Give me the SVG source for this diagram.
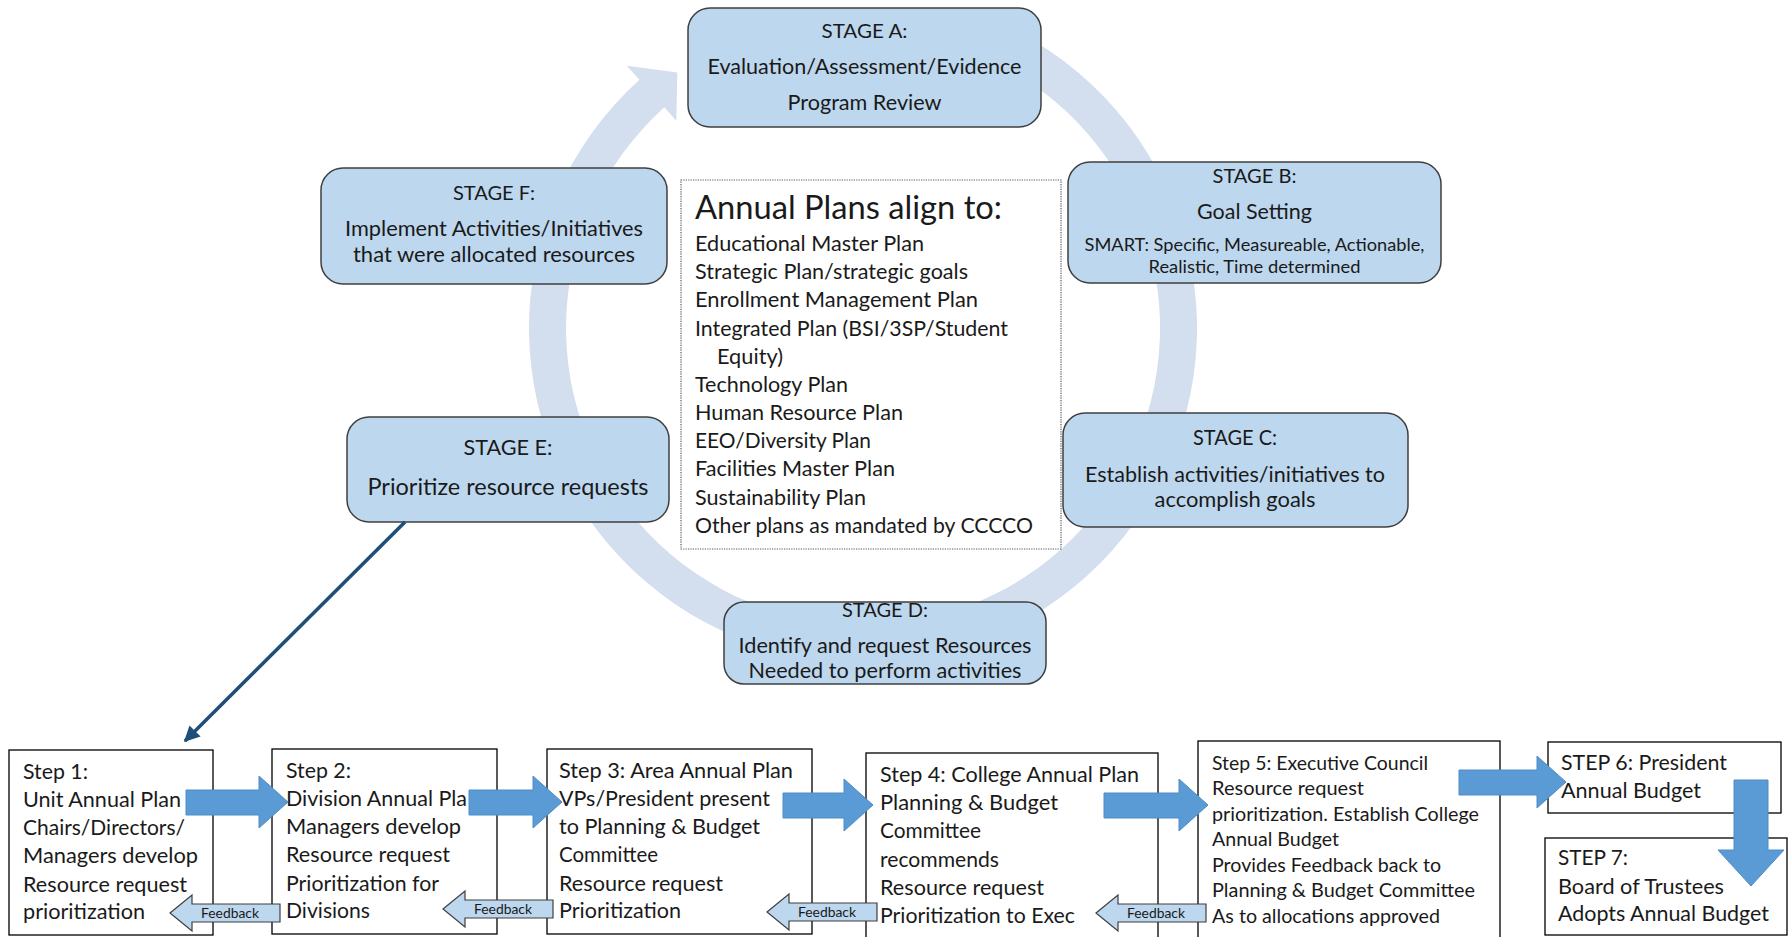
<svg xmlns="http://www.w3.org/2000/svg" width="1790" height="937" viewBox="0 0 1790 937">
<defs>
<style>
.st{fill:#BDD7EE;stroke:#3F3F3F;stroke-width:1.5}
.sp{fill:#FFFFFF;stroke:#000000;stroke-width:1.3}
.t{font-family:Lato,"Liberation Sans",sans-serif;fill:#1A1A1A}
.c{text-anchor:middle}
.ba{fill:#5B9BD5;stroke:#4F8CC6;stroke-width:1}
.fb{fill:#BDD7EE;stroke:#3F3F3F;stroke-width:1.2}
.fbt{font-family:Lato,"Liberation Sans",sans-serif;fill:#1A1A1A;font-size:12.5px;text-anchor:middle}
.ring{fill:#D3DEEF}
</style>
<marker id="ah" viewBox="0 0 10 10" refX="9" refY="5" markerWidth="4.5" markerHeight="4.5" orient="auto" markerUnits="strokeWidth">
<path d="M0,0 L10,5 L0,10 Z" fill="#1F4E79"/>
</marker>
<path id="fbarrow" d="M0,0 L22,-18 L22,-9 L110,-9 L110,9 L22,9 L22,18 Z"/>
</defs>
<rect width="1790" height="937" fill="#FFFFFF"/>

<g id="cycle-ring">
<path class="ring" d="M1004.2,25.3 A334,334 0 1 1 639.5,79.8 L626.8,65.7 L677.3,72.4 L676.3,120.7 L664.3,107.3 A297,297 0 1 0 988.5,58.8 Z"/>
</g>

<g id="stage-a">
<rect class="st" x="688" y="8" width="353" height="119" rx="22"/>
<text class="t c" x="864.5" y="38" font-size="20" textLength="86" lengthAdjust="spacingAndGlyphs">STAGE A:</text>
<text class="t c" x="864.5" y="74" font-size="21" textLength="314" lengthAdjust="spacingAndGlyphs">Evaluation/Assessment/Evidence</text>
<text class="t c" x="864.5" y="110" font-size="21" textLength="154" lengthAdjust="spacingAndGlyphs">Program Review</text>
</g>

<g id="stage-b">
<rect class="st" x="1068" y="162" width="373" height="121" rx="22"/>
<text class="t c" x="1254.5" y="183" font-size="20" textLength="84" lengthAdjust="spacingAndGlyphs">STAGE B:</text>
<text class="t c" x="1254.5" y="219" font-size="22" textLength="115" lengthAdjust="spacingAndGlyphs">Goal Setting</text>
<text class="t c" x="1254.5" y="251" font-size="16.5" textLength="340" lengthAdjust="spacingAndGlyphs">SMART: Specific, Measureable, Actionable,</text>
<text class="t c" x="1254.5" y="273" font-size="16.5" textLength="212" lengthAdjust="spacingAndGlyphs">Realistic, Time determined</text>
</g>

<g id="stage-c">
<rect class="st" x="1063" y="413" width="345" height="114" rx="22"/>
<text class="t c" x="1235" y="445" font-size="20.5" textLength="84" lengthAdjust="spacingAndGlyphs">STAGE C:</text>
<text class="t c" x="1235" y="482" font-size="21.5" textLength="300" lengthAdjust="spacingAndGlyphs">Establish activities/initiatives to</text>
<text class="t c" x="1235" y="507" font-size="21.5" textLength="161" lengthAdjust="spacingAndGlyphs">accomplish goals</text>
</g>

<g id="stage-d">
<rect class="st" x="724" y="602" width="322" height="82" rx="20"/>
<text class="t c" x="885" y="617" font-size="20" textLength="86" lengthAdjust="spacingAndGlyphs">STAGE D:</text>
<text class="t c" x="885" y="653" font-size="21" textLength="293" lengthAdjust="spacingAndGlyphs">Identify and request Resources</text>
<text class="t c" x="885" y="678" font-size="21" textLength="273" lengthAdjust="spacingAndGlyphs">Needed to perform activities</text>
</g>

<g id="stage-e">
<rect class="st" x="347" y="417" width="322" height="105" rx="22"/>
<text class="t c" x="508" y="455" font-size="22" textLength="89" lengthAdjust="spacingAndGlyphs">STAGE E:</text>
<text class="t c" x="508" y="495" font-size="22.5" textLength="281" lengthAdjust="spacingAndGlyphs">Prioritize resource requests</text>
</g>

<g id="stage-f">
<rect class="st" x="321" y="168" width="346" height="116" rx="22"/>
<text class="t c" x="494" y="200" font-size="20" textLength="82" lengthAdjust="spacingAndGlyphs">STAGE F:</text>
<text class="t c" x="494" y="236" font-size="21" textLength="298" lengthAdjust="spacingAndGlyphs">Implement Activities/Initiatives</text>
<text class="t c" x="494" y="262" font-size="21" textLength="282" lengthAdjust="spacingAndGlyphs">that were allocated resources</text>
</g>

<g id="annual-plans">
<rect x="681" y="180" width="380" height="369" fill="#FFFFFF" stroke="#555555" stroke-width="1.2" stroke-dasharray="1.2 1.2"/>
<text class="t" x="695" y="219" font-size="32" textLength="307" lengthAdjust="spacingAndGlyphs">Annual Plans align to:</text>
<text class="t" x="695" y="251" font-size="21" textLength="229" lengthAdjust="spacingAndGlyphs">Educational Master Plan</text>
<text class="t" x="695" y="279" font-size="21" textLength="273" lengthAdjust="spacingAndGlyphs">Strategic Plan/strategic goals</text>
<text class="t" x="695" y="307" font-size="21" textLength="283" lengthAdjust="spacingAndGlyphs">Enrollment Management Plan</text>
<text class="t" x="695" y="336" font-size="21" textLength="313" lengthAdjust="spacingAndGlyphs">Integrated Plan (BSI/3SP/Student</text>
<text class="t" x="717" y="364" font-size="21" textLength="66" lengthAdjust="spacingAndGlyphs">Equity)</text>
<text class="t" x="695" y="392" font-size="21" textLength="153" lengthAdjust="spacingAndGlyphs">Technology Plan</text>
<text class="t" x="695" y="420" font-size="21" textLength="208" lengthAdjust="spacingAndGlyphs">Human Resource Plan</text>
<text class="t" x="695" y="448" font-size="21" textLength="176" lengthAdjust="spacingAndGlyphs">EEO/Diversity Plan</text>
<text class="t" x="695" y="476" font-size="21" textLength="200" lengthAdjust="spacingAndGlyphs">Facilities Master Plan</text>
<text class="t" x="695" y="505" font-size="21" textLength="171" lengthAdjust="spacingAndGlyphs">Sustainability Plan</text>
<text class="t" x="695" y="533" font-size="21" textLength="338" lengthAdjust="spacingAndGlyphs">Other plans as mandated by CCCCO</text>
</g>

<g id="step-1">
<rect class="sp" x="9" y="750" width="204" height="185"/>
<text class="t" x="23" y="779" font-size="21" textLength="65" lengthAdjust="spacingAndGlyphs">Step 1:</text>
<text class="t" x="23" y="807" font-size="21" textLength="158" lengthAdjust="spacingAndGlyphs">Unit Annual Plan</text>
<text class="t" x="23" y="835" font-size="21" textLength="162" lengthAdjust="spacingAndGlyphs">Chairs/Directors/</text>
<text class="t" x="23" y="863" font-size="21" textLength="175" lengthAdjust="spacingAndGlyphs">Managers develop</text>
<text class="t" x="23" y="892" font-size="21" textLength="164" lengthAdjust="spacingAndGlyphs">Resource request</text>
<text class="t" x="23" y="919" font-size="21" textLength="122" lengthAdjust="spacingAndGlyphs">prioritization</text>
</g>

<g id="step-2">
<rect class="sp" x="272" y="749" width="225" height="185"/>
<text class="t" x="286" y="778" font-size="21" textLength="65" lengthAdjust="spacingAndGlyphs">Step 2:</text>
<text class="t" x="286" y="806" font-size="21" textLength="181" lengthAdjust="spacingAndGlyphs">Division Annual Pla</text>
<text class="t" x="286" y="834" font-size="21" textLength="175" lengthAdjust="spacingAndGlyphs">Managers develop</text>
<text class="t" x="286" y="862" font-size="21" textLength="164" lengthAdjust="spacingAndGlyphs">Resource request</text>
<text class="t" x="286" y="891" font-size="21" textLength="153" lengthAdjust="spacingAndGlyphs">Prioritization for</text>
<text class="t" x="286" y="918" font-size="21" textLength="84" lengthAdjust="spacingAndGlyphs">Divisions</text>
</g>

<g id="step-3">
<rect class="sp" x="547" y="749" width="265" height="185"/>
<text class="t" x="559" y="778" font-size="21" textLength="234" lengthAdjust="spacingAndGlyphs">Step 3: Area Annual Plan</text>
<text class="t" x="559" y="806" font-size="21" textLength="211" lengthAdjust="spacingAndGlyphs">VPs/President present</text>
<text class="t" x="559" y="834" font-size="21" textLength="201" lengthAdjust="spacingAndGlyphs">to Planning &amp; Budget</text>
<text class="t" x="559" y="862" font-size="21" textLength="99" lengthAdjust="spacingAndGlyphs">Committee</text>
<text class="t" x="559" y="891" font-size="21" textLength="164" lengthAdjust="spacingAndGlyphs">Resource request</text>
<text class="t" x="559" y="918" font-size="21" textLength="122" lengthAdjust="spacingAndGlyphs">Prioritization</text>
</g>

<g id="step-4">
<rect class="sp" x="866" y="753" width="292" height="190"/>
<text class="t" x="880" y="782" font-size="21" textLength="259" lengthAdjust="spacingAndGlyphs">Step 4: College Annual Plan</text>
<text class="t" x="880" y="810" font-size="21" textLength="178" lengthAdjust="spacingAndGlyphs">Planning &amp; Budget</text>
<text class="t" x="880" y="838" font-size="21" textLength="101" lengthAdjust="spacingAndGlyphs">Committee</text>
<text class="t" x="880" y="867" font-size="21" textLength="119" lengthAdjust="spacingAndGlyphs">recommends</text>
<text class="t" x="880" y="895" font-size="21" textLength="164" lengthAdjust="spacingAndGlyphs">Resource request</text>
<text class="t" x="880" y="923" font-size="21" textLength="195" lengthAdjust="spacingAndGlyphs">Prioritization to Exec</text>
</g>

<g id="step-5">
<rect class="sp" x="1198" y="741" width="302" height="202"/>
<text class="t" x="1212" y="770" font-size="19.5" textLength="216" lengthAdjust="spacingAndGlyphs">Step 5: Executive Council</text>
<text class="t" x="1212" y="795" font-size="19.5" textLength="152" lengthAdjust="spacingAndGlyphs">Resource request</text>
<text class="t" x="1212" y="821" font-size="19.5" textLength="267" lengthAdjust="spacingAndGlyphs">prioritization. Establish College</text>
<text class="t" x="1212" y="846" font-size="19.5" textLength="127" lengthAdjust="spacingAndGlyphs">Annual Budget</text>
<text class="t" x="1212" y="872" font-size="19.5" textLength="229" lengthAdjust="spacingAndGlyphs">Provides Feedback back to</text>
<text class="t" x="1212" y="897" font-size="19.5" textLength="263" lengthAdjust="spacingAndGlyphs">Planning &amp; Budget Committee</text>
<text class="t" x="1212" y="923" font-size="19.5" textLength="228" lengthAdjust="spacingAndGlyphs">As to allocations approved</text>
</g>

<g id="step-6">
<rect class="sp" x="1548" y="742" width="233" height="71"/>
<text class="t" x="1561" y="770" font-size="21" textLength="166" lengthAdjust="spacingAndGlyphs">STEP 6: President</text>
<text class="t" x="1561" y="798" font-size="21" textLength="140" lengthAdjust="spacingAndGlyphs">Annual Budget</text>
</g>

<g id="step-7">
<rect class="sp" x="1545" y="838" width="242" height="97"/>
<text class="t" x="1558" y="865" font-size="21" textLength="70" lengthAdjust="spacingAndGlyphs">STEP 7:</text>
<text class="t" x="1558" y="894" font-size="21" textLength="166" lengthAdjust="spacingAndGlyphs">Board of Trustees</text>
<text class="t" x="1558" y="921" font-size="21" textLength="211" lengthAdjust="spacingAndGlyphs">Adopts Annual Budget</text>
</g>

<g id="connectors">
<line x1="405" y1="522" x2="185" y2="741" stroke="#1F4E79" stroke-width="3.5" marker-end="url(#ah)"/>
<path class="ba" d="M288,802 L259,776 L259,790 L186,790 L186,815 L259,815 L259,828 Z"/>
<path class="ba" d="M562,802 L533,776 L533,790 L469,790 L469,815 L533,815 L533,828 Z"/>
<path class="ba" d="M873,805 L844,779 L844,793 L783,793 L783,818 L844,818 L844,831 Z"/>
<path class="ba" d="M1208,805 L1179,779 L1179,793 L1104,793 L1104,818 L1179,818 L1179,831 Z"/>
<path class="ba" d="M1566,782 L1537,756 L1537,770 L1459,770 L1459,795 L1537,795 L1537,808 Z"/>
<path class="ba" d="M1751,886 L1718,850 L1734,850 L1734,780 L1768,780 L1768,850 L1784,850 Z"/>
<use href="#fbarrow" class="fb" x="170" y="913"/>
<text class="fbt" x="230" y="917.5" textLength="58" lengthAdjust="spacingAndGlyphs">Feedback</text>
<use href="#fbarrow" class="fb" x="443" y="909"/>
<text class="fbt" x="503" y="913.5" textLength="58" lengthAdjust="spacingAndGlyphs">Feedback</text>
<use href="#fbarrow" class="fb" x="767" y="912"/>
<text class="fbt" x="827" y="916.5" textLength="58" lengthAdjust="spacingAndGlyphs">Feedback</text>
<use href="#fbarrow" class="fb" x="1096" y="913"/>
<text class="fbt" x="1156" y="917.5" textLength="58" lengthAdjust="spacingAndGlyphs">Feedback</text>
</g>
</svg>
